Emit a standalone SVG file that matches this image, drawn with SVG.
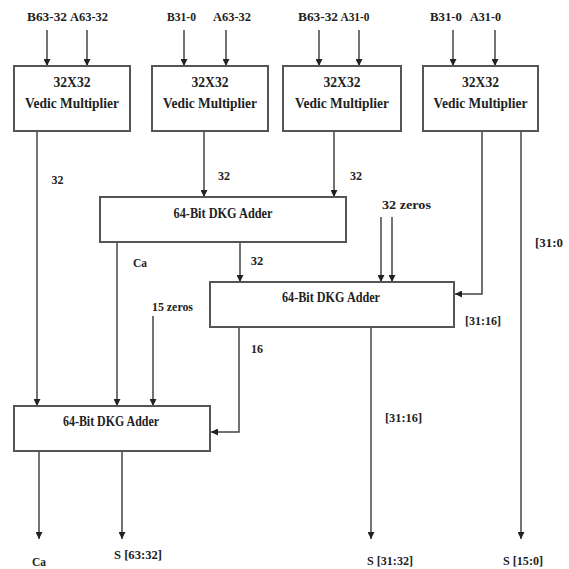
<svg xmlns="http://www.w3.org/2000/svg" width="569" height="569" viewBox="0 0 569 569">
<defs>
<style>
.box{fill:#fff;stroke:#555;stroke-width:2}
.ln{fill:none;stroke:#444;stroke-width:1.5}
text{font-family:"Liberation Serif","Times New Roman",serif;font-weight:bold;fill:#222}
.m{font-size:15px;text-anchor:middle}
.a{font-size:14px;text-anchor:middle}
.t{font-size:13.5px;text-anchor:middle}
.lb{font-size:12.5px;text-anchor:middle}
</style>
<marker id="ah" viewBox="0 0 10 10" refX="10" refY="5" markerWidth="7" markerHeight="7" markerUnits="userSpaceOnUse" orient="auto">
<path d="M0,0 L10,5 L0,10 z" fill="#222"/>
</marker>
</defs>
<rect width="569" height="569" fill="#fff"/>

<g id="connectors">
<line class="ln" x1="47" y1="30" x2="47" y2="66" marker-end="url(#ah)"/>
<line class="ln" x1="87" y1="30" x2="87" y2="66" marker-end="url(#ah)"/>
<line class="ln" x1="184" y1="30" x2="184" y2="66" marker-end="url(#ah)"/>
<line class="ln" x1="226" y1="30" x2="226" y2="66" marker-end="url(#ah)"/>
<line class="ln" x1="319" y1="30" x2="319" y2="66" marker-end="url(#ah)"/>
<line class="ln" x1="359" y1="30" x2="359" y2="66" marker-end="url(#ah)"/>
<line class="ln" x1="453" y1="30" x2="453" y2="66" marker-end="url(#ah)"/>
<line class="ln" x1="495" y1="30" x2="495" y2="66" marker-end="url(#ah)"/>

<line class="ln" x1="37" y1="131" x2="37" y2="406" marker-end="url(#ah)"/>
<line class="ln" x1="204" y1="131" x2="204" y2="197" marker-end="url(#ah)"/>
<line class="ln" x1="334" y1="131" x2="334" y2="197" marker-end="url(#ah)"/>
<polyline class="ln" points="482,131 482,294 455,294" marker-end="url(#ah)"/>
<line class="ln" x1="521" y1="131" x2="521" y2="539" marker-end="url(#ah)"/>

<line class="ln" x1="117" y1="242" x2="117" y2="406" marker-end="url(#ah)"/>
<line class="ln" x1="240" y1="242" x2="240" y2="282" marker-end="url(#ah)"/>
<line class="ln" x1="381" y1="217" x2="381" y2="282" marker-end="url(#ah)"/>
<line class="ln" x1="392" y1="217" x2="392" y2="282" marker-end="url(#ah)"/>

<line class="ln" x1="153" y1="316" x2="153" y2="406" marker-end="url(#ah)"/>
<polyline class="ln" points="239,327 239,432 211,432" marker-end="url(#ah)"/>
<line class="ln" x1="371" y1="327" x2="371" y2="539" marker-end="url(#ah)"/>

<line class="ln" x1="39" y1="451" x2="39" y2="539" marker-end="url(#ah)"/>
<line class="ln" x1="122" y1="451" x2="122" y2="539" marker-end="url(#ah)"/>
</g>

<g id="mul1">
<rect class="box" x="14" y="66" width="116" height="65"/>
<text class="m" x="72" y="87" textLength="37" lengthAdjust="spacingAndGlyphs">32X32</text>
<text class="m" x="72" y="108" textLength="94" lengthAdjust="spacingAndGlyphs">Vedic Multiplier</text>
</g>
<g id="mul2">
<rect class="box" x="152" y="66" width="116" height="65"/>
<text class="m" x="210" y="87" textLength="37" lengthAdjust="spacingAndGlyphs">32X32</text>
<text class="m" x="210" y="108" textLength="94" lengthAdjust="spacingAndGlyphs">Vedic Multiplier</text>
</g>
<g id="mul3">
<rect class="box" x="283" y="66" width="118" height="65"/>
<text class="m" x="342" y="87" textLength="37" lengthAdjust="spacingAndGlyphs">32X32</text>
<text class="m" x="342" y="108" textLength="94" lengthAdjust="spacingAndGlyphs">Vedic Multiplier</text>
</g>
<g id="mul4">
<rect class="box" x="423" y="66" width="115" height="65"/>
<text class="m" x="480.5" y="87" textLength="37" lengthAdjust="spacingAndGlyphs">32X32</text>
<text class="m" x="480.5" y="108" textLength="94" lengthAdjust="spacingAndGlyphs">Vedic Multiplier</text>
</g>

<g id="adder1">
<rect class="box" x="100" y="197" width="246" height="45"/>
<text class="a" x="223" y="218" textLength="99" lengthAdjust="spacingAndGlyphs">64-Bit DKG Adder</text>
</g>
<g id="adder2">
<rect class="box" x="210" y="282" width="244" height="45"/>
<text class="a" x="331" y="302" textLength="98" lengthAdjust="spacingAndGlyphs">64-Bit DKG Adder</text>
</g>
<g id="adder3">
<rect class="box" x="14" y="406" width="196" height="45"/>
<text class="a" x="111" y="426" textLength="96" lengthAdjust="spacingAndGlyphs">64-Bit DKG Adder</text>
</g>

<g id="labels">
<text class="lb" x="47" y="21" textLength="40" lengthAdjust="spacingAndGlyphs">B63-32</text>
<text class="lb" x="89" y="21" textLength="38" lengthAdjust="spacingAndGlyphs">A63-32</text>
<text class="lb" x="181.5" y="21" textLength="29" lengthAdjust="spacingAndGlyphs">B31-0</text>
<text class="lb" x="232" y="21" textLength="38" lengthAdjust="spacingAndGlyphs">A63-32</text>
<text class="lb" x="318" y="21" textLength="40" lengthAdjust="spacingAndGlyphs">B63-32</text>
<text class="lb" x="355" y="21" textLength="29" lengthAdjust="spacingAndGlyphs">A31-0</text>
<text class="lb" x="446" y="21" textLength="32" lengthAdjust="spacingAndGlyphs">B31-0</text>
<text class="lb" x="485.5" y="21" textLength="31" lengthAdjust="spacingAndGlyphs">A31-0</text>

<text class="t" x="57.5" y="184" textLength="12" lengthAdjust="spacingAndGlyphs">32</text>
<text class="t" x="224" y="180" textLength="12" lengthAdjust="spacingAndGlyphs">32</text>
<text class="t" x="356" y="180" textLength="12" lengthAdjust="spacingAndGlyphs">32</text>
<text class="t" x="406.5" y="209" textLength="49" lengthAdjust="spacingAndGlyphs">32 zeros</text>
<text class="t" x="549" y="247" textLength="28" lengthAdjust="spacingAndGlyphs">[31:0</text>
<text class="t" x="140" y="267" textLength="14" lengthAdjust="spacingAndGlyphs">Ca</text>
<text class="t" x="257" y="265" textLength="12.5" lengthAdjust="spacingAndGlyphs">32</text>
<text class="t" x="483" y="325" textLength="36" lengthAdjust="spacingAndGlyphs">[31:16]</text>
<text class="t" x="172.5" y="311" textLength="41" lengthAdjust="spacingAndGlyphs">15 zeros</text>
<text class="t" x="257" y="353" textLength="12" lengthAdjust="spacingAndGlyphs">16</text>
<text class="t" x="403.5" y="422" textLength="37" lengthAdjust="spacingAndGlyphs">[31:16]</text>
<text class="t" x="39" y="566" textLength="14" lengthAdjust="spacingAndGlyphs">Ca</text>
<text class="t" x="138" y="559" textLength="48" lengthAdjust="spacingAndGlyphs">S [63:32]</text>
<text class="t" x="390" y="565" textLength="46" lengthAdjust="spacingAndGlyphs">S [31:32]</text>
<text class="t" x="523" y="565" textLength="40" lengthAdjust="spacingAndGlyphs">S [15:0]</text>
</g>
</svg>
